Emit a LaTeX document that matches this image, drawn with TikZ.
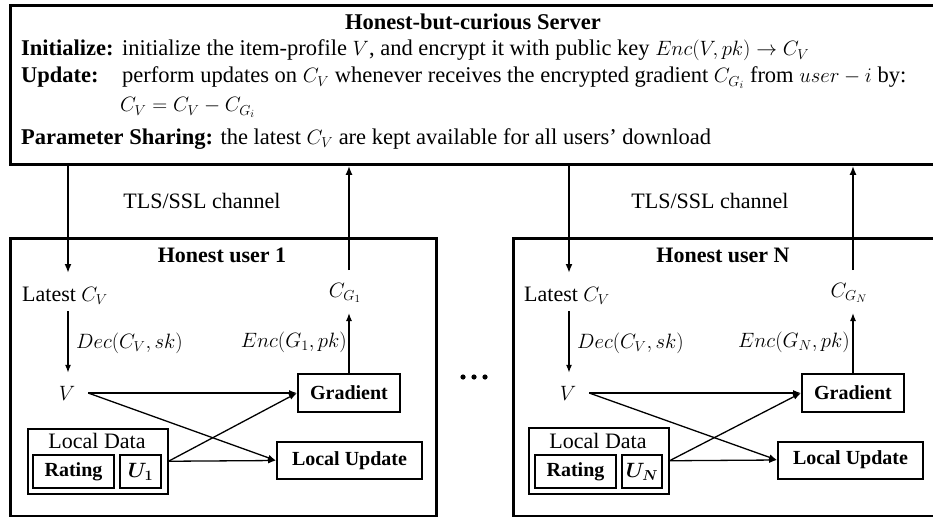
\documentclass[tikz,border=0pt]{standalone}
\usepackage{amsmath}
\usepackage{bm}
\usepackage{fontspec}
\setmainfont{Liberation Serif}
\usetikzlibrary{arrows.meta}
\tikzset{
  txt/.style={inner sep=0pt, font=\fontsize{22pt}{24pt}\selectfont},
  stxt/.style={inner sep=0pt, font=\fontsize{22.5pt}{25pt}\selectfont},
  outerbox/.style={draw, line width=2.8pt, inner sep=0pt},
  blkbox/.style={draw, line width=2pt, inner sep=0pt, font=\fontsize{20pt}{22pt}\selectfont\bfseries},
  ldbox/.style={draw, line width=1.5pt, inner sep=0pt},
  bigarrow/.style={line width=2.7pt, -{Latex[length=9pt,width=7pt]}},
  smallarrow/.style={line width=1.3pt, -{Latex[length=8pt,width=6pt]}},
}
\begin{document}
\begin{tikzpicture}[x=1pt,y=-1pt]
\useasboundingbox (0,0) rectangle (933,516);
\clip (0,0) rectangle (933,516);
% server
\node[outerbox, anchor=north west, minimum width=940pt, minimum height=159pt] (server) at (9,4) {};
\node[stxt, anchor=base] (stitle) at (473,30) {\bfseries Honest-but-curious Server};
\node[stxt, anchor=base west] (sinit) at (21,56) {\bfseries Initialize:};
\node[stxt, anchor=base west] (sinitt) at (122,56) {initialize the item-profile $V$, and encrypt it with public key $Enc(V,pk)\rightarrow C_V$};
\node[stxt, anchor=base west] (supd) at (21,83) {\bfseries Update:};
\node[stxt, anchor=base west] (supdt) at (122,83) {perform updates on $C_V$ whenever receives the encrypted gradient $C_{G_i}$ from $user-i$ by:};
\node[stxt, anchor=base west] (seq) at (120,112) {$C_V=C_V-C_{G_i}$};
\node[stxt, anchor=base west] (spar) at (21,144) {\textbf{Parameter Sharing:} the latest $C_V$ are kept available for all users’ download};
% channels
\node[txt] (tls1) at (202,201) {TLS/SSL channel};
\node[txt] (tls2) at (710,201) {TLS/SSL channel};
% dots
\fill (463,377) circle (2.6pt) (474,377) circle (2.6pt) (485,377) circle (2.6pt);

% ---------- user 1 ----------
\node[outerbox, anchor=north west, minimum width=426pt, minimum height=278pt] (u1) at (9,237) {};
\node[txt, anchor=base] (t1) at (222,262) {\bfseries Honest user 1};
\node[txt, anchor=base] (lat1) at (65,301) {Latest $C_V$};
\node[txt, anchor=base] (cg1) at (345,297) {$C_{G_1}$};
\node[txt, anchor=base west] (dec1) at (76,348) {$Dec(C_V,sk)$};
\node[txt, anchor=base east] (enc1) at (347,347) {$Enc(G_1,pk)$};
\node[txt, minimum width=42pt, minimum height=40pt] (v1) at (67,393) {$V$};
\node[blkbox, minimum width=102pt, minimum height=38pt] (g1) at (349,393) {Gradient};
\node[blkbox, minimum width=145pt, minimum height=37pt] (lu1) at (349.5,460.5) {Local Update};
\node[ldbox, anchor=north west, minimum width=140pt, minimum height=65pt] (ld1) at (27,428) {};
\node[txt, anchor=base] (ldt1) at (97,448) {Local Data};
\node[blkbox, minimum width=81pt, minimum height=33pt] (r1) at (73.5,471.5) {Rating};
\node[blkbox, minimum width=41pt, minimum height=33pt] (us1) at (140.5,471.5) {$\bm{U_1}$};
\coordinate (dn1) at (68,273);
\coordinate (up1) at (349,270);
\coordinate (cgb1) at (349,313);
\draw[bigarrow] (server.south -| dn1) -- (dn1);
\draw[bigarrow] (up1) -- (up1 |- server.south);
\draw[smallarrow] ([yshift=-7pt]lat1.south -| dn1) -- (v1.north -| dn1);
\draw[smallarrow] (g1.north) -- (cgb1);
\draw[smallarrow] (v1.east) -- (g1.west);
\draw[smallarrow] (v1.east) -- (lu1.west);
\draw[smallarrow] (ld1.east) -- (lu1.west);
\draw[smallarrow] (ld1.east) -- (g1.west);

% ---------- user N ----------
\node[outerbox, anchor=north west, minimum width=440pt, minimum height=278pt] (uN) at (512,237) {};
\node[txt, anchor=base] (tN) at (723,262) {\bfseries Honest user N};
\node[txt, anchor=base] (latN) at (567,301) {Latest $C_V$};
\node[txt, anchor=base] (cgN) at (849,297) {$C_{G_N}$};
\node[txt, anchor=base west] (decN) at (577,348) {$Dec(C_V,sk)$};
\node[txt, anchor=base east] (encN) at (850,347) {$Enc(G_N,pk)$};
\node[txt, minimum width=42pt, minimum height=40pt] (vN) at (568,393) {$V$};
\node[blkbox, minimum width=102pt, minimum height=38pt] (gN) at (853,393) {Gradient};
\node[blkbox, minimum width=145pt, minimum height=37pt] (luN) at (850.5,460) {Local Update};
\node[ldbox, anchor=north west, minimum width=140pt, minimum height=66pt] (ldN) at (528,427) {};
\node[txt, anchor=base] (ldtN) at (598,448) {Local Data};
\node[blkbox, minimum width=81pt, minimum height=33pt] (rN) at (575.5,471.5) {Rating};
\node[blkbox, minimum width=40pt, minimum height=33pt] (usN) at (642,471.5) {$\bm{U_N}$};
\coordinate (dnN) at (569,273);
\coordinate (upN) at (853,270);
\coordinate (cgbN) at (853,313);
\draw[bigarrow] (server.south -| dnN) -- (dnN);
\draw[bigarrow] (upN) -- (upN |- server.south);
\draw[smallarrow] ([yshift=-7pt]latN.south -| dnN) -- (vN.north -| dnN);
\draw[smallarrow] (gN.north) -- (cgbN);
\draw[smallarrow] (vN.east) -- (gN.west);
\draw[smallarrow] (vN.east) -- (luN.west);
\draw[smallarrow] (ldN.east) -- (luN.west);
\draw[smallarrow] (ldN.east) -- (gN.west);
\end{tikzpicture}
\end{document}
